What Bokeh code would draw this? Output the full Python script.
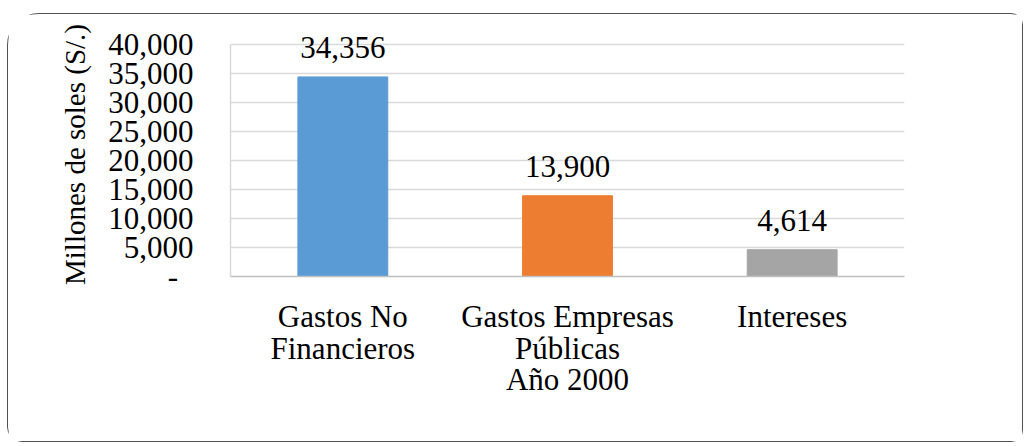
import json
from bokeh.plotting import figure
from bokeh.models import (Range1d, FactorRange, FixedTicker, NumeralTickFormatter,
                          ColumnDataSource, CategoricalAxis, CustomJSTickFormatter, LabelSet)
from bokeh.embed import file_html
from bokeh.resources import INLINE

categories = ["Gastos No Financieros", "Gastos Empresas Públicas", "Intereses"]
label_line1 = ["Gastos No", "Gastos Empresas", "Intereses"]
label_line2 = ["Financieros", "Públicas", ""]
values = [34356, 13900, 4614]
colors = ["#5B9BD5", "#ED7D31", "#A5A5A5"]
y_ticks = [0, 5000, 10000, 15000, 20000, 25000, 30000, 35000, 40000]
y_axis_title = "Millones de soles (S/.)"
x_axis_title = "Año 2000"

FONT = "Liberation Serif"
FS = "31px"

src = ColumnDataSource(dict(
    cat=categories,
    val=values,
    color=colors,
    lbl=[f"{v:,}" for v in values],
))

# a little head-room above the 40,000 line so the top data label is not clipped
p = figure(
    width=1016, height=429,
    x_range=FactorRange(*categories, range_padding=0),
    y_range=Range1d(0, 42000),
    output_backend="svg", toolbar_location=None,
    min_border_left=222, min_border_top=18, min_border_right=120, min_border_bottom=167,
)
p.styles = {"margin-left": "7px", "margin-top": "13px",
            "border": "1.5px solid #505050",
            "border-radius": "32px 12px 12px 15px"}
p.outline_line_color = None

p.vbar(x="cat", top="val", width=0.4, color="color", source=src)
labels = LabelSet(x="cat", y="val", text="lbl", source=src, text_align="center",
                  text_baseline="alphabetic", y_offset=19, text_font=FONT,
                  text_font_size=FS, text_color="black")
p.add_layout(labels)

# y axis
yax = p.yaxis[0]
yax.ticker = FixedTicker(ticks=y_ticks)
yax.bounds = (y_ticks[0], y_ticks[-1])
yax.formatter = NumeralTickFormatter(format="0,0")
yax.major_label_overrides = {0: "-\u00a0\u00a0"}
yax.major_tick_line_color = None
yax.minor_tick_line_color = None
yax.major_tick_out = 0
yax.major_tick_in = 0
yax.axis_line_color = "#D9D9D9"
yax.axis_line_width = 1.5
yax.major_label_standoff = 37
yax.major_label_text_font = FONT
yax.major_label_text_font_size = FS
yax.major_label_text_color = "black"
yax.axis_label = y_axis_title
yax.axis_label_text_font = FONT
yax.axis_label_text_font_size = "29px"
yax.axis_label_text_font_style = "normal"
yax.axis_label_text_color = "black"
yax.axis_label_standoff = 14

# x axis: first line of category labels
line1_map = dict(zip(categories, label_line1))
line2_map = dict(zip(categories, label_line2))

xax = p.xaxis[0]
xax.formatter = CustomJSTickFormatter(code="const m = " + json.dumps(line1_map) + "; return m[tick];")
xax.major_tick_line_color = None
xax.minor_tick_line_color = None
xax.major_tick_out = 0
xax.major_tick_in = 0
xax.axis_line_color = "#BFBFBF"
xax.axis_line_width = 1.5
xax.major_label_standoff = 22
xax.major_label_text_font = FONT
xax.major_label_text_font_size = FS
xax.major_label_text_color = "black"
xax.major_label_orientation = "horizontal"

# second line of category labels + axis title
xax2 = CategoricalAxis()
xax2.formatter = CustomJSTickFormatter(code="const m = " + json.dumps(line2_map) + "; return m[tick];")
xax2.axis_line_color = None
xax2.major_tick_line_color = None
xax2.minor_tick_line_color = None
xax2.major_tick_out = 0
xax2.major_tick_in = 0
xax2.major_label_standoff = -6
xax2.major_label_text_font = FONT
xax2.major_label_text_font_size = FS
xax2.major_label_text_color = "black"
xax2.major_label_orientation = "horizontal"
xax2.axis_label = x_axis_title
xax2.axis_label_text_font = FONT
xax2.axis_label_text_font_size = FS
xax2.axis_label_text_font_style = "normal"
xax2.axis_label_text_color = "black"
xax2.axis_label_standoff = -7
p.add_layout(xax2, "below")

p.xgrid.grid_line_color = None
p.ygrid.grid_line_color = "#D9D9D9"
p.ygrid.grid_line_width = 1.5

open("out.html", "w").write(file_html(p, INLINE))
